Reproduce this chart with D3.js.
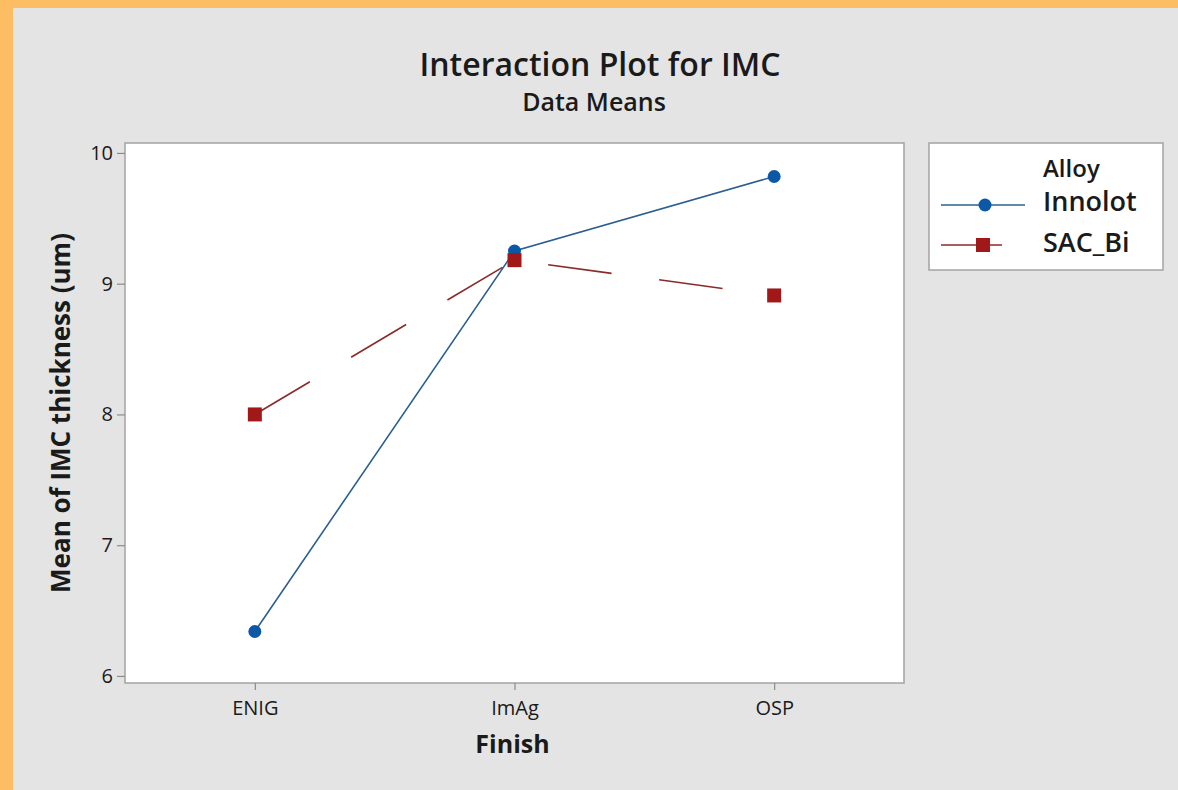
<!DOCTYPE html>
<html>
<head>
<meta charset="utf-8">
<script src="https://cdn.jsdelivr.net/npm/d3@7"></script>
<style>
  html, body { margin: 0; padding: 0; background: #fdbd62; }
  svg { display: block; }
  text { font-family: "Open Sans", "Noto Sans", sans-serif; fill: #1a1a1a; }
</style>
</head>
<body>
<svg id="chart" width="1178" height="790"></svg>
<script>
// Interaction plot data: mean IMC thickness by surface finish and alloy
const finishes = ["ENIG", "ImAg", "OSP"];
const alloys = ["Innolot", "SAC_Bi"];
const innolotMeans = [6.34, 9.25, 9.82];
const sacBiMeans = [8.00, 9.18, 8.91];
const yTicks = [6, 7, 8, 9, 10];

const svg = d3.select("#chart");
const W = 1178, H = 790;

// page frame: orange edge on left and top, grey panel
svg.append("rect").attr("x", 0).attr("y", 0).attr("width", W).attr("height", H).attr("fill", "#fdbd62");
svg.append("rect").attr("x", 13).attr("y", 8).attr("width", W - 13).attr("height", H - 8).attr("fill", "#e4e4e4");

const plot = { left: 125, right: 904, top: 143, bottom: 683 };

const x = d3.scalePoint().domain(finishes).range([plot.left, plot.right]).padding(0.5);
const y = d3.scaleLinear().domain([5.946, 10.076]).range([plot.bottom, plot.top]);

// plot area
svg.append("rect")
  .attr("x", plot.left).attr("y", plot.top)
  .attr("width", plot.right - plot.left).attr("height", plot.bottom - plot.top)
  .attr("fill", "#ffffff").attr("stroke", "#a3a3a3").attr("stroke-width", 1.5);

// axes
const yAxis = svg.append("g").attr("transform", `translate(${plot.left},0)`)
  .call(d3.axisLeft(y).tickValues(yTicks).tickFormat(d3.format("d")).tickSize(8).tickPadding(4));
const xAxis = svg.append("g").attr("transform", `translate(0,${plot.bottom})`)
  .call(d3.axisBottom(x).tickSize(7).tickPadding(11));
[yAxis, xAxis].forEach(g => {
  g.select(".domain").remove();
  g.selectAll(".tick line").attr("stroke", "#8c8c8c").attr("stroke-width", 1.2);
  g.selectAll(".tick text").attr("font-family", "'Open Sans', sans-serif")
    .attr("font-size", 20).attr("fill", "#1a1a1a").attr("font-weight", 500);
});

// titles
svg.append("text").attr("x", 600).attr("y", 76).attr("text-anchor", "middle")
  .attr("font-size", 32).attr("font-weight", 600).text("Interaction Plot for IMC");
svg.append("text").attr("x", 594).attr("y", 111).attr("text-anchor", "middle")
  .attr("font-size", 25).attr("font-weight", 600).text("Data Means");

// axis titles
svg.append("text").attr("x", (plot.left + plot.right) / 2 - 2).attr("y", 753).attr("text-anchor", "middle")
  .attr("font-size", 25).attr("font-weight", 700).text("Finish");
svg.append("text")
  .attr("transform", `translate(70,${(plot.top + plot.bottom) / 2}) rotate(-90)`)
  .attr("text-anchor", "middle").attr("font-size", 26).attr("font-weight", 700)
  .text("Mean of IMC thickness (um)");

const series = [
  { name: alloys[0], values: innolotMeans, line: "#2c5f8e", marker: "#0c58a6", dash: null, shape: "circle" },
  { name: alloys[1], values: sacBiMeans, line: "#8a2a2a", marker: "#a01818", dash: "64,48", shape: "square" }
];

const line = d3.line().x((d, i) => x(finishes[i])).y(d => y(d));

series.forEach(s => {
  svg.append("path").datum(s.values)
    .attr("d", line).attr("fill", "none")
    .attr("stroke", s.line).attr("stroke-width", 1.6)
    .attr("stroke-dasharray", s.dash);
});

function drawMarker(g, shape, cx, cy, color) {
  if (shape === "circle") {
    g.append("circle").attr("cx", cx).attr("cy", cy).attr("r", 6.5).attr("fill", color);
  } else {
    g.append("rect").attr("x", cx - 7).attr("y", cy - 7).attr("width", 14).attr("height", 14).attr("fill", color);
  }
}

// markers drawn after lines; SAC_Bi on top so it overlaps Innolot at ImAg
series.forEach(s => {
  const g = svg.append("g");
  s.values.forEach((v, i) => drawMarker(g, s.shape, x(finishes[i]), y(v), s.marker));
});

// legend
const lg = svg.append("g");
lg.append("rect").attr("x", 929).attr("y", 143).attr("width", 234).attr("height", 127)
  .attr("fill", "#ffffff").attr("stroke", "#a3a3a3").attr("stroke-width", 1.5);
lg.append("text").attr("x", 1043).attr("y", 177).attr("font-size", 24).attr("font-weight", 600).text("Alloy");
const legendRows = [205, 245];
const legendBaselines = [211, 252];
series.forEach((s, i) => {
  const ly = legendRows[i];
  lg.append("line").attr("x1", 941).attr("x2", 1025).attr("y1", ly).attr("y2", ly)
    .attr("stroke", s.line).attr("stroke-width", 1.6).attr("stroke-dasharray", s.dash ? "61,48" : null);
  drawMarker(lg, s.shape, s.shape === "circle" ? 985 : 983, ly, s.marker);
  lg.append("text").attr("x", 1043).attr("y", legendBaselines[i]).attr("font-size", 27).attr("font-weight", 600).text(s.name);
});
</script>
</body>
</html>
